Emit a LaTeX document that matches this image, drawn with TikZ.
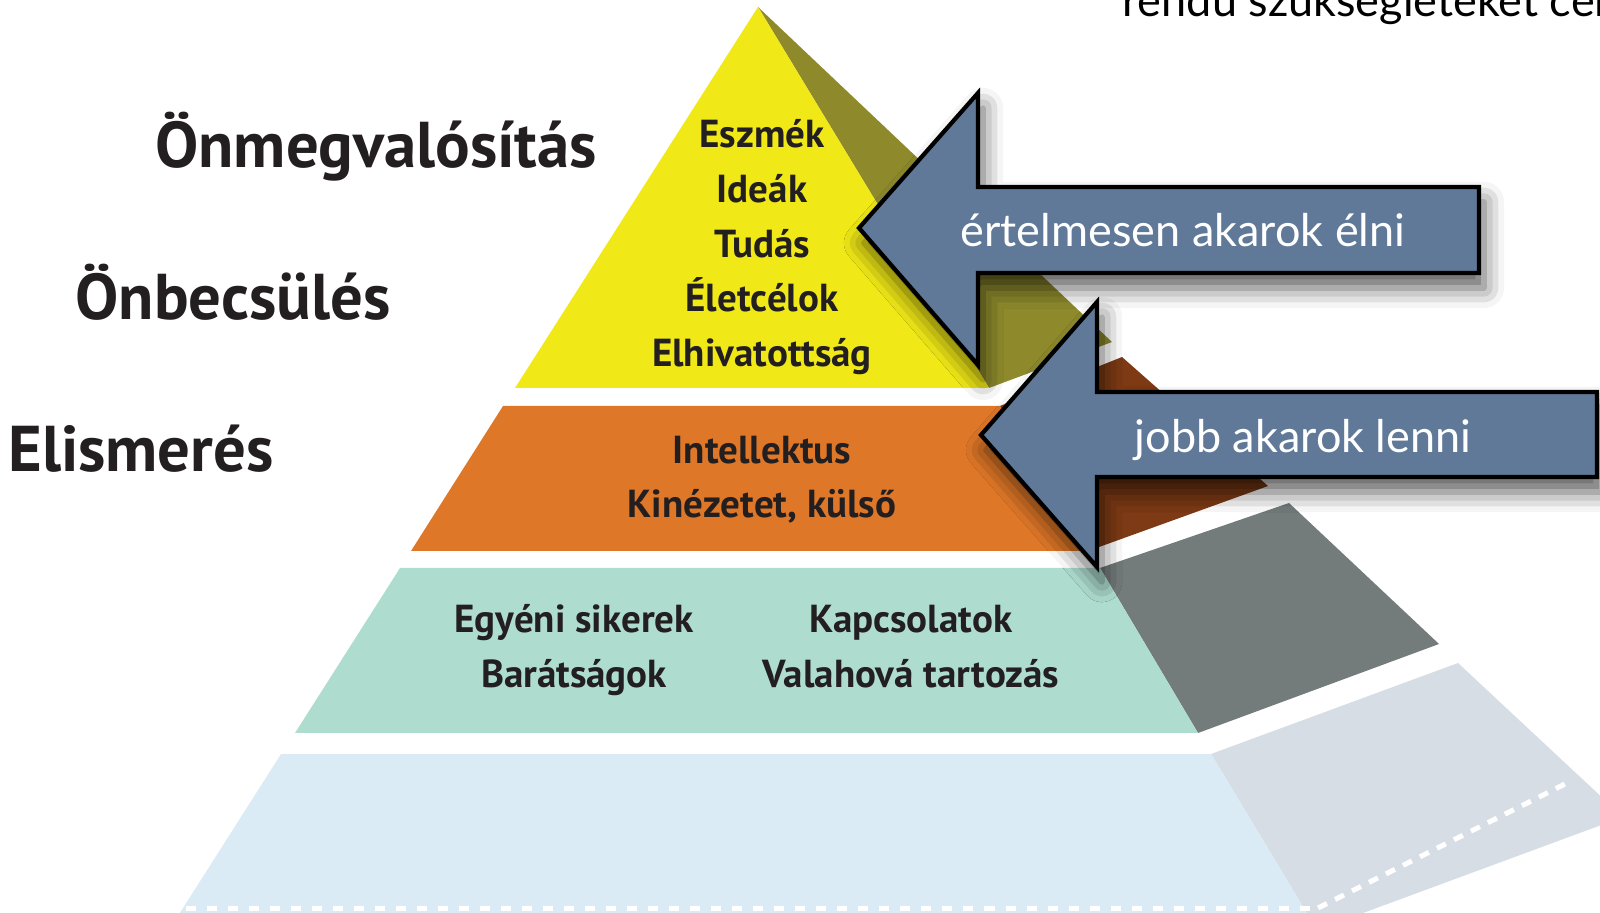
\documentclass[tikz,border=0pt]{standalone}
\usepackage{fontspec}
\setmainfont{PT Sans}
\newfontfamily\gillfont{Lato}
\usetikzlibrary{shadows.blur}

\definecolor{labeltext}{RGB}{35,31,32}
\definecolor{pyryellow}{RGB}{240,233,23}
\definecolor{sideyellow}{RGB}{142,138,44}
\definecolor{pyrorange}{RGB}{223,119,40}
\definecolor{sideorange}{RGB}{125,58,20}
\definecolor{pyrteal}{RGB}{174,221,208}
\definecolor{sideteal}{RGB}{115,123,123}
\definecolor{pyrblue}{RGB}{219,235,245}
\definecolor{sideblue}{RGB}{214,221,229}
\definecolor{arrowblue}{RGB}{96,121,152}

\begin{document}
\begin{tikzpicture}[x=0.01cm, y=-0.01cm,
  tier/.style={font=\bfseries\fontsize{18.4}{22}\selectfont, text=labeltext, anchor=base},
  need/.style={font=\bfseries\fontsize{11.1}{13}\selectfont, text=labeltext, anchor=base},
  bigarrow/.style={fill=arrowblue, draw=black, line width=1.2pt, miter limit=10,
    blur shadow={shadow xshift=0.05cm, shadow yshift=-0.15cm, shadow blur radius=0.2cm, shadow opacity=65}},
  arrowtext/.style={font=\gillfont\fontsize{12.8}{15}\selectfont, text=white, anchor=base}]

  \useasboundingbox (0,0) rectangle (1600,913);
  \clip (0,0) rectangle (1600,913);

  % side faces of the pyramid
  \fill[sideyellow] (758,7) -- (1112,342) -- (989,388) -- cycle;
  \fill[sideorange] (1000,406) -- (1122,357) -- (1268,486) -- (1088,551) -- cycle;
  \fill[sideteal] (1100,568) -- (1289,503) -- (1439,644) -- (1198,733) -- cycle;
  \fill[sideblue] (1211,754) -- (1458,663) -- (1623,817) -- (1317,930) -- cycle;

  % front faces of the pyramid
  \fill[pyryellow] (758,7) -- (989,388) -- (515,388) -- cycle;
  \fill[pyrorange] (503,406) -- (1000,406) -- (1088,551) -- (411,551) -- cycle;
  \fill[pyrteal] (400,568) -- (1100,568) -- (1198,733) -- (295,733) -- cycle;
  \fill[pyrblue] (281,754) -- (1211,754) -- (1317,930) -- (169,930) -- cycle;

  % perforated bottom edge
  \draw[white, line width=0.05cm, dash pattern=on 0.1cm off 0.11cm] (186,908) -- (1312,908);
  \draw[white, line width=0.05cm, dash pattern=on 0.1cm off 0.09cm] (1318,908) -- (1567,783);

  % tier names
  \node[tier] (selfreal) at (376,168) {Önmegvalósítás};
  \node[tier] (esteem) at (233,320) {Önbecsülés};
  \node[tier] (recog) at (141,472) {Elismerés};

  % needs inside the pyramid
  \node[need] (ideas) at (762,148) {Eszmék};
  \node[need] (ideak) at (762,203) {Ideák};
  \node[need] (knowledge) at (762,258) {Tudás};
  \node[need] (goals) at (762,312) {Életcélok};
  \node[need] (devotion) at (762,367) {Elhivatottság};
  \node[need] (intellect) at (762,464) {Intellektus};
  \node[need] (looks) at (762,518) {Kinézetet, külső};
  \node[need] (success) at (574,633) {Egyéni sikerek};
  \node[need] (friends) at (574,688) {Barátságok};
  \node[need] (contacts) at (911,633) {Kapcsolatok};
  \node[need] (belong) at (911,688) {Valahová tartozás};

  % arrows
  \draw[bigarrow] (1597,392) -- (1097,392) -- (1097,302) -- (981,435) -- (1097,567) -- (1097,477) -- (1597,477) -- cycle;
  \node[arrowtext] (better) at (1303,453) {jobb akarok lenni};
  \draw[bigarrow] (1479,187) -- (978,187) -- (978,93) -- (859,228) -- (978,365) -- (978,273) -- (1479,273) -- cycle;
  \node[arrowtext] (sense) at (1183,247) {értelmesen akarok élni};

  % cut-off heading at the top
  \node[font=\gillfont\fontsize{12.8}{15}\selectfont, text=black, anchor=base west] (heading) at (1110,17) {rendű szükségleteket célo};

\end{tikzpicture}
\end{document}
